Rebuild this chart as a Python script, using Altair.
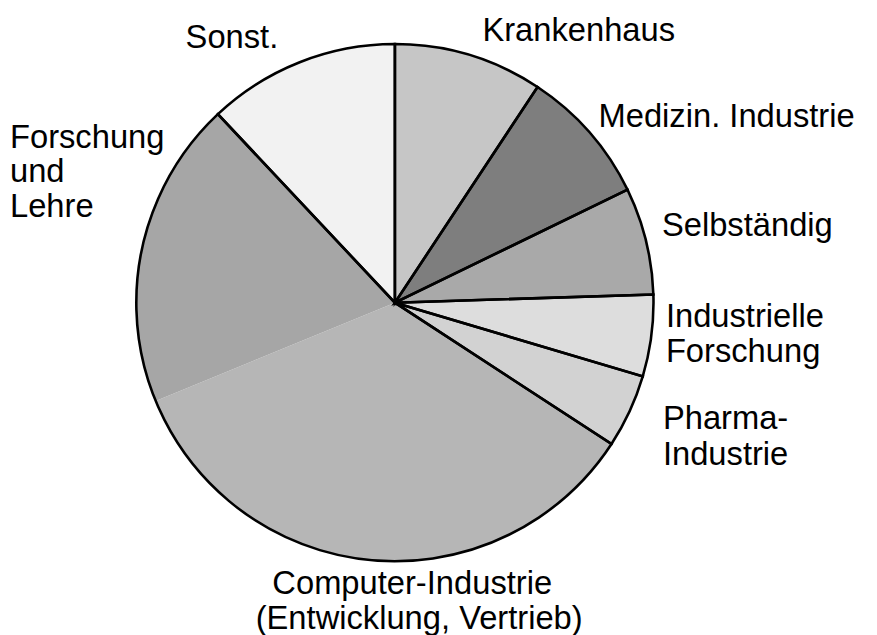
import altair as alt
import pandas as pd

# --- data (shares, in percent) ---
categories = ["Krankenhaus", "Medizin. Industrie", "Selbständig", "Industrielle Forschung",
              "Pharma-Industrie", "Computer-Industrie", "Forschung und Lehre", "Sonst."]
values = [9.3, 8.5, 6.7, 5.1, 4.6, 34.6, 19.2, 12.0]
outline_groups = ["a", "b", "c", "d", "e", "f", "f", "g"]
colors = ["#c6c6c6", "#7e7e7e", "#a9a9a9", "#dddddd", "#d2d2d2", "#b6b6b6", "#a6a6a6", "#f2f2f2"]

# label text lines and their layout (chart pixel coords)
label_lines = [["Krankenhaus"], ["Medizin. Industrie"], ["Selbständig"],
               ["Industrielle", "Forschung"], ["Pharma-", "Industrie"],
               ["Computer-Industrie", "(Entwicklung, Vertrieb)"],
               ["Forschung", "und", "Lehre"], ["Sonst."]]
label_layout = [
    [(576, 30, "center")],
    [(596, 117, "left")],
    [(660, 227, "left")],
    [(664, 319, "left"), (664, 354, "left")],
    [(661, 422, "left"), (661, 458, "left")],
    [(408, 589, "center"), (415, 624, "center")],
    [(2, 138, "left"), (2, 173, "left"), (2, 208, "left")],
    [(226, 37, "center")],
]

CX, CY, R = 390.5, 294.5, 261
FONT = "Liberation Sans"

df = pd.DataFrame({
    "category": categories,
    "value": values,
    "order": list(range(len(categories))),
    "grp": outline_groups,
})

rows = []
for lines, lay in zip(label_lines, label_layout):
    for t, (x, y, a) in zip(lines, lay):
        rows.append({"text": t, "x": x, "y": y, "align": a})
lab = pd.DataFrame(rows)

fill = alt.Chart(df).mark_arc(radius=R, strokeWidth=0).encode(
    theta=alt.Theta("value:Q", stack=True),
    order=alt.Order("order:Q"),
    color=alt.Color("category:N", scale=alt.Scale(domain=categories, range=colors), legend=None),
    x=alt.value(CX),
    y=alt.value(CY),
)

outline = alt.Chart(df).transform_aggregate(
    total="sum(value)", o="min(order)", groupby=["grp"]
).mark_arc(radius=R, fillOpacity=0, fill="white", stroke="black", strokeWidth=2.6,
           strokeJoin="miter").encode(
    theta=alt.Theta("total:Q", stack=True),
    order=alt.Order("o:Q"),
    detail="grp:N",
    x=alt.value(CX),
    y=alt.value(CY),
)

def text_layer(align):
    return alt.Chart(lab).transform_filter(alt.datum.align == align).mark_text(
        align=align, baseline="alphabetic", font=FONT, fontSize=33, color="black"
    ).encode(
        x=alt.X("x:Q", scale=None),
        y=alt.Y("y:Q", scale=None),
        text="text:N",
    )

chart = alt.layer(fill, outline, text_layer("left"), text_layer("center")).properties(
    width=869, height=627, padding=0, autosize="none"
).configure_view(stroke=None)

chart.save("out.html", embed_options={"renderer": "svg", "actions": False})
